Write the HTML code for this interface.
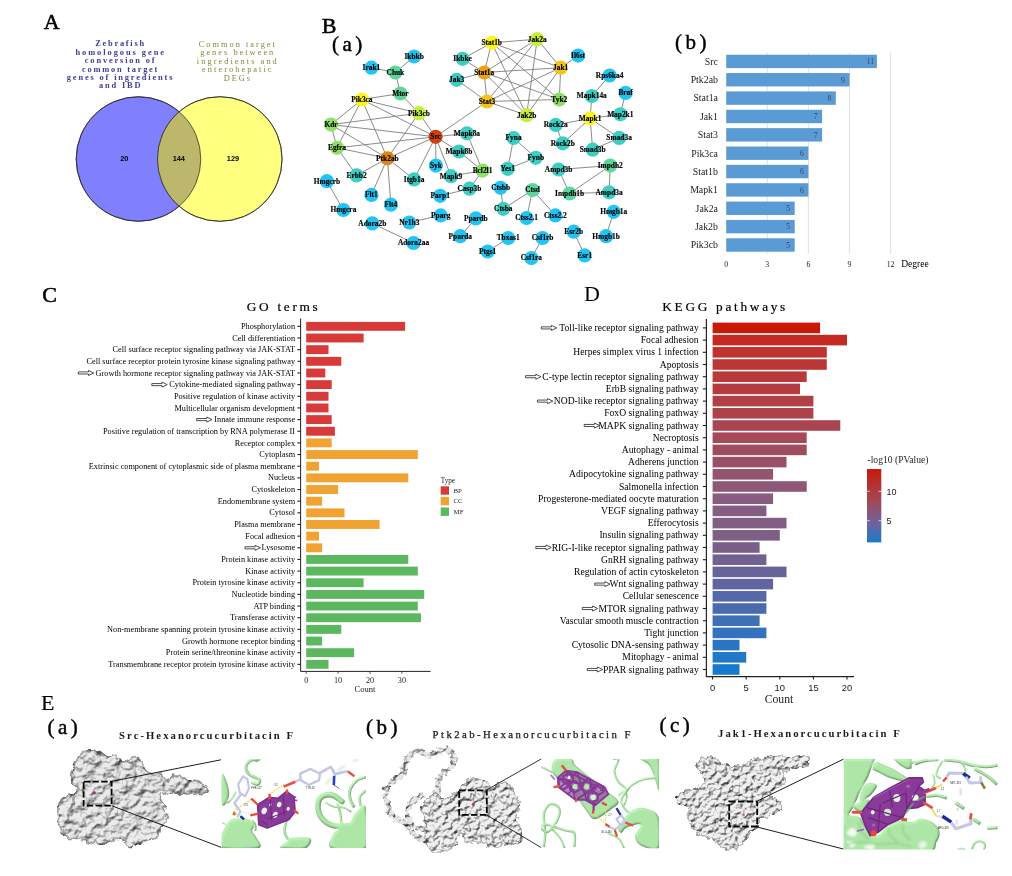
<!DOCTYPE html>
<html lang="en"><head><meta charset="utf-8"><title>Figure</title>
<style>
html,body{margin:0;padding:0;background:#fff;}
body{width:1012px;height:876px;overflow:hidden;}
svg{display:block;}
text{font-family:"Liberation Serif",serif;fill:#000;}
.pl{font-size:22px;stroke:#000;stroke-width:0.35px;}
.sub{font-size:21px;letter-spacing:3.5px;stroke:#000;stroke-width:0.45px;}
.ttl{font-size:13.3px;stroke:#000;stroke-width:0.2px;}
.nl{font-size:7.4px;font-weight:bold;text-anchor:middle;stroke:#000;stroke-width:0.15px;}
.va{font-size:7.6px;font-weight:bold;text-anchor:middle;letter-spacing:1.25px;}
.bl{font-size:9.8px;text-anchor:end;fill:#1a1a1a;}
.bv{font-size:7.7px;text-anchor:middle;fill:#39485c;}
.bt{font-size:7.8px;text-anchor:middle;fill:#222;}
.gl{font-size:8.28px;text-anchor:end;fill:#000;}
.kl{font-size:9.62px;text-anchor:end;fill:#000;}
.gt{font-size:8.2px;text-anchor:middle;fill:#222;}
.kt{font-size:9.4px;text-anchor:middle;fill:#222;font-family:"Liberation Sans",sans-serif;}
.et{font-size:10.7px;font-weight:bold;fill:#1a1a1a;}
.tiny{font-size:2.6px;fill:#333;font-family:"Liberation Sans",sans-serif;}
</style></head><body>
<svg width="1012" height="876" viewBox="0 0 1012 876">
<rect x="0" y="0" width="1012" height="876" fill="#ffffff"/>

<defs>
<filter id="lump" x="-10%" y="-10%" width="120%" height="120%" color-interpolation-filters="sRGB">
  <feTurbulence type="fractalNoise" baseFrequency="0.14" numOctaves="2" seed="7" result="n"/>
  <feDisplacementMap in="SourceGraphic" in2="n" scale="7" xChannelSelector="R" yChannelSelector="G" result="d"/>
  <feTurbulence type="fractalNoise" baseFrequency="0.11" numOctaves="3" seed="11" result="n2"/>
  <feDiffuseLighting in="n2" surfaceScale="3.6" diffuseConstant="1.1" lighting-color="#ffffff" result="lit">
    <feDistantLight azimuth="240" elevation="58"/>
  </feDiffuseLighting>
  <feComposite in="lit" in2="d" operator="arithmetic" k1="1" k2="0" k3="0" k4="0" result="mul"/>
  <feComposite in="mul" in2="d" operator="in" result="tex"/>
  <feGaussianBlur in="tex" stdDeviation="0.4"/>
</filter>
<filter id="lump2" x="-10%" y="-10%" width="120%" height="120%" color-interpolation-filters="sRGB">
  <feTurbulence type="fractalNoise" baseFrequency="0.2" numOctaves="2" seed="3" result="n"/>
  <feDisplacementMap in="SourceGraphic" in2="n" scale="7" xChannelSelector="R" yChannelSelector="G" result="d"/>
  <feTurbulence type="fractalNoise" baseFrequency="0.19" numOctaves="3" seed="5" result="n2"/>
  <feDiffuseLighting in="n2" surfaceScale="3.4" diffuseConstant="1.14" lighting-color="#ffffff" result="lit">
    <feDistantLight azimuth="240" elevation="60"/>
  </feDiffuseLighting>
  <feComposite in="lit" in2="d" operator="arithmetic" k1="1" k2="0" k3="0" k4="0" result="mul"/>
  <feComposite in="mul" in2="d" operator="in" result="tex"/>
  <feGaussianBlur in="tex" stdDeviation="0.35"/>
</filter>
<filter id="rib" x="-5%" y="-5%" width="110%" height="110%" color-interpolation-filters="sRGB">
  <feGaussianBlur in="SourceAlpha" stdDeviation="1.0" result="b"/>
  <feDiffuseLighting in="b" surfaceScale="1.5" diffuseConstant="1.12" lighting-color="#b6ecb0" result="lit">
    <feDistantLight azimuth="235" elevation="62"/>
  </feDiffuseLighting>
  <feFlood flood-color="#a6e2a0" result="fl"/>
  <feComposite in="lit" in2="fl" operator="arithmetic" k1="0" k2="0.6" k3="0.4" k4="0" result="mix"/>
  <feComposite in="mix" in2="SourceAlpha" operator="in" result="c"/>
  <feGaussianBlur in="c" stdDeviation="0.6"/>
</filter>
<filter id="soft" x="-5%" y="-5%" width="110%" height="110%"><feGaussianBlur stdDeviation="0.45"/></filter>
<filter id="soft2" x="-5%" y="-5%" width="110%" height="110%"><feGaussianBlur stdDeviation="0.8"/></filter>
<linearGradient id="kgrad" x1="0" y1="0" x2="0" y2="1">
  <stop offset="0" stop-color="#c9190a"/><stop offset="0.45" stop-color="#a04a5a"/><stop offset="0.75" stop-color="#6b64a0"/><stop offset="1" stop-color="#1b7ac9"/>
</linearGradient>
</defs>

<text x="43.8" y="29.4" class="pl" style="stroke-width:0.55px">A</text>
<text x="321.8" y="32.6" class="pl" style="stroke-width:0.55px">B</text>
<text x="42.3" y="301.6" class="pl" style="stroke-width:0.55px">C</text>
<text x="584" y="301.1" class="pl" style="stroke-width:0">D</text>
<text x="41" y="709.6" class="pl" style="stroke-width:0.15px">E</text>
<text x="332" y="51.4" class="sub">(a)</text>
<text x="675" y="48.5" class="sub">(b)</text>
<g id="venn">
<circle cx="138.5" cy="159" r="62.3" fill="#8080ff" stroke="#222" stroke-width="0.7"/>
<circle cx="219.8" cy="159" r="62.3" fill="#ffff80" stroke="#222" stroke-width="0.7"/>
<clipPath id="cl"><circle cx="138.5" cy="159" r="62.3"/></clipPath>
<circle cx="219.8" cy="159" r="62.3" fill="#bdb76b" clip-path="url(#cl)"/>
<circle cx="138.5" cy="159" r="62.3" fill="none" stroke="#222" stroke-width="0.7"/>
<circle cx="219.8" cy="159" r="62.3" fill="none" stroke="#222" stroke-width="0.7"/>
<text x="124.3" y="161" style="font-family:'Liberation Sans', sans-serif;font-size:7.4px;font-weight:bold;text-anchor:middle">20</text>
<text x="178.8" y="161" style="font-family:'Liberation Sans', sans-serif;font-size:7.4px;font-weight:bold;text-anchor:middle">144</text>
<text x="233" y="161" style="font-family:'Liberation Sans', sans-serif;font-size:7.4px;font-weight:bold;text-anchor:middle">129</text>
<text x="95.2" y="46.4" textLength="48.9" lengthAdjust="spacing" style="font-size:8.4px;font-weight:bold;fill:#3c3c9e">Zebrafish</text>
<text x="75.4" y="54.8" textLength="88.6" lengthAdjust="spacing" style="font-size:8.4px;font-weight:bold;fill:#3c3c9e">homologous gene</text>
<text x="84.8" y="63.2" textLength="69.8" lengthAdjust="spacing" style="font-size:8.4px;font-weight:bold;fill:#3c3c9e">conversion of</text>
<text x="82.0" y="71.6" textLength="75.4" lengthAdjust="spacing" style="font-size:8.4px;font-weight:bold;fill:#3c3c9e">common target</text>
<text x="66.8" y="80.0" textLength="105.7" lengthAdjust="spacing" style="font-size:8.4px;font-weight:bold;fill:#3c3c9e">genes of ingredients</text>
<text x="98.9" y="88.4" textLength="41.6" lengthAdjust="spacing" style="font-size:8.4px;font-weight:bold;fill:#3c3c9e">and IBD</text>
<text x="198.7" y="47.0" textLength="76.2" lengthAdjust="spacing" style="font-size:8.4px;fill:#87873a">Common target</text>
<text x="200.2" y="55.38" textLength="73.1" lengthAdjust="spacing" style="font-size:8.4px;fill:#87873a">genes between</text>
<text x="196.8" y="63.76" textLength="80.0" lengthAdjust="spacing" style="font-size:8.4px;fill:#87873a">ingredients and</text>
<text x="202.1" y="72.14" textLength="69.4" lengthAdjust="spacing" style="font-size:8.4px;fill:#87873a">enterohepatic</text>
<text x="223.7" y="80.52" textLength="26.2" lengthAdjust="spacing" style="font-size:8.4px;fill:#87873a">DEGs</text>
</g>
<g id="net">
<g stroke="#858585" stroke-width="0.95" fill="none">
<line x1="414.1" y1="56.5" x2="395.4" y2="72.5"/>
<line x1="371.4" y1="67.7" x2="395.4" y2="72.5"/>
<line x1="395.4" y1="72.5" x2="400.4" y2="93.5"/>
<line x1="400.4" y1="93.5" x2="361.9" y2="99.5"/>
<line x1="400.4" y1="93.5" x2="418.9" y2="113.2"/>
<line x1="361.9" y1="99.5" x2="418.9" y2="113.2"/>
<line x1="361.9" y1="99.5" x2="331" y2="124.6"/>
<line x1="361.9" y1="99.5" x2="337" y2="147.8"/>
<line x1="361.9" y1="99.5" x2="387.4" y2="158.3"/>
<line x1="361.9" y1="99.5" x2="435.6" y2="136.8"/>
<line x1="418.9" y1="113.2" x2="331" y2="124.6"/>
<line x1="418.9" y1="113.2" x2="435.6" y2="136.8"/>
<line x1="418.9" y1="113.2" x2="387.4" y2="158.3"/>
<line x1="331" y1="124.6" x2="435.6" y2="136.8"/>
<line x1="331" y1="124.6" x2="387.4" y2="158.3"/>
<line x1="331" y1="124.6" x2="337" y2="147.8"/>
<line x1="337" y1="147.8" x2="435.6" y2="136.8"/>
<line x1="337" y1="147.8" x2="387.4" y2="158.3"/>
<line x1="337" y1="147.8" x2="356.6" y2="175.4"/>
<line x1="387.4" y1="158.3" x2="435.6" y2="136.8"/>
<line x1="387.4" y1="158.3" x2="356.6" y2="175.4"/>
<line x1="387.4" y1="158.3" x2="371.4" y2="194.9"/>
<line x1="387.4" y1="158.3" x2="390.9" y2="204.7"/>
<line x1="387.4" y1="158.3" x2="414.1" y2="179.4"/>
<line x1="435.6" y1="136.8" x2="414.1" y2="179.4"/>
<line x1="435.6" y1="136.8" x2="435.9" y2="165.6"/>
<line x1="435.6" y1="136.8" x2="451" y2="176.2"/>
<line x1="435.6" y1="136.8" x2="459" y2="151.5"/>
<line x1="435.6" y1="136.8" x2="466.9" y2="133.3"/>
<line x1="435.6" y1="136.8" x2="486.9" y2="101.5"/>
<line x1="466.9" y1="133.3" x2="482.5" y2="170.6"/>
<line x1="459" y1="151.5" x2="482.5" y2="170.6"/>
<line x1="451" y1="176.2" x2="482.5" y2="170.6"/>
<line x1="482.5" y1="170.6" x2="469.5" y2="188.7"/>
<line x1="469.5" y1="188.7" x2="440.2" y2="195.8"/>
<line x1="440.7" y1="215.4" x2="409.3" y2="222.5"/>
<line x1="372.3" y1="223.4" x2="413.5" y2="243"/>
<line x1="475.8" y1="218.4" x2="460.3" y2="236.2"/>
<line x1="326.9" y1="181.2" x2="343.4" y2="210"/>
<line x1="487.7" y1="251.5" x2="508.2" y2="238"/>
<line x1="491.7" y1="42.8" x2="537.2" y2="39.2"/>
<line x1="491.7" y1="42.8" x2="484.2" y2="72.5"/>
<line x1="491.7" y1="42.8" x2="462.6" y2="58.8"/>
<line x1="491.7" y1="42.8" x2="560.7" y2="67.7"/>
<line x1="491.7" y1="42.8" x2="559.3" y2="99.5"/>
<line x1="491.7" y1="42.8" x2="526.6" y2="115.2"/>
<line x1="484.2" y1="72.5" x2="462.6" y2="58.8"/>
<line x1="484.2" y1="72.5" x2="456.7" y2="79.8"/>
<line x1="484.2" y1="72.5" x2="537.2" y2="39.2"/>
<line x1="484.2" y1="72.5" x2="560.7" y2="67.7"/>
<line x1="484.2" y1="72.5" x2="486.9" y2="101.5"/>
<line x1="484.2" y1="72.5" x2="559.3" y2="99.5"/>
<line x1="484.2" y1="72.5" x2="526.6" y2="115.2"/>
<line x1="486.9" y1="101.5" x2="456.7" y2="79.8"/>
<line x1="486.9" y1="101.5" x2="537.2" y2="39.2"/>
<line x1="486.9" y1="101.5" x2="560.7" y2="67.7"/>
<line x1="486.9" y1="101.5" x2="559.3" y2="99.5"/>
<line x1="486.9" y1="101.5" x2="526.6" y2="115.2"/>
<line x1="537.2" y1="39.2" x2="560.7" y2="67.7"/>
<line x1="537.2" y1="39.2" x2="526.6" y2="115.2"/>
<line x1="560.7" y1="67.7" x2="559.3" y2="99.5"/>
<line x1="560.7" y1="67.7" x2="526.6" y2="115.2"/>
<line x1="560.7" y1="67.7" x2="578.1" y2="55.6"/>
<line x1="609.6" y1="75.5" x2="591.8" y2="96"/>
<line x1="591.8" y1="96" x2="590.1" y2="118.4"/>
<line x1="625.6" y1="92.9" x2="620.3" y2="114.3"/>
<line x1="590.1" y1="118.4" x2="620.3" y2="114.3"/>
<line x1="590.1" y1="118.4" x2="555.7" y2="124.9"/>
<line x1="590.1" y1="118.4" x2="562.8" y2="143.3"/>
<line x1="590.1" y1="118.4" x2="619.1" y2="137.9"/>
<line x1="590.1" y1="118.4" x2="592.7" y2="149.7"/>
<line x1="555.7" y1="124.9" x2="562.8" y2="143.3"/>
<line x1="619.1" y1="137.9" x2="592.7" y2="149.7"/>
<line x1="513.6" y1="138" x2="535.8" y2="157.8"/>
<line x1="513.6" y1="138" x2="507.7" y2="168.8"/>
<line x1="535.8" y1="157.8" x2="507.7" y2="168.8"/>
<line x1="558.6" y1="169.5" x2="610.2" y2="165.6"/>
<line x1="558.6" y1="169.5" x2="569.6" y2="193.5"/>
<line x1="610.2" y1="165.6" x2="569.6" y2="193.5"/>
<line x1="610.2" y1="165.6" x2="609.1" y2="192.3"/>
<line x1="569.6" y1="193.5" x2="609.1" y2="192.3"/>
<line x1="500.6" y1="187.8" x2="503.3" y2="208.8"/>
<line x1="532.6" y1="190.1" x2="503.3" y2="208.8"/>
<line x1="532.6" y1="190.1" x2="526.6" y2="218"/>
<line x1="532.6" y1="190.1" x2="555.4" y2="215.4"/>
<line x1="613.7" y1="211.8" x2="606.1" y2="236.2"/>
<line x1="573.7" y1="231.7" x2="584.7" y2="255.4"/>
<line x1="542.6" y1="238" x2="531.4" y2="258.1"/>
</g>
<circle cx="414.1" cy="56.5" r="7.1" fill="#21c4f2"/>
<circle cx="371.4" cy="67.7" r="7.1" fill="#21c4f2"/>
<circle cx="395.4" cy="72.5" r="7.1" fill="#5dd69c"/>
<circle cx="400.4" cy="93.5" r="7.1" fill="#5dd69c"/>
<circle cx="361.9" cy="99.5" r="7.1" fill="#fff51e"/>
<circle cx="418.9" cy="113.2" r="7.1" fill="#c6ee3c"/>
<circle cx="331" cy="124.6" r="7.1" fill="#8fe066"/>
<circle cx="337" cy="147.8" r="7.1" fill="#8fe066"/>
<circle cx="435.6" cy="136.8" r="7.1" fill="#cf400e"/>
<circle cx="462.6" cy="58.8" r="7.1" fill="#3ccdc4"/>
<circle cx="456.7" cy="79.8" r="7.1" fill="#3ccdc4"/>
<circle cx="466.9" cy="133.3" r="7.1" fill="#3ccdc4"/>
<circle cx="459" cy="151.5" r="7.1" fill="#3ccdc4"/>
<circle cx="387.4" cy="158.3" r="7.1" fill="#e0860f"/>
<circle cx="491.7" cy="42.8" r="7.1" fill="#fff51e"/>
<circle cx="537.2" cy="39.2" r="7.1" fill="#c6ee3c"/>
<circle cx="484.2" cy="72.5" r="7.1" fill="#e8a212"/>
<circle cx="560.7" cy="67.7" r="7.1" fill="#f4c518"/>
<circle cx="578.1" cy="55.6" r="7.1" fill="#21c4f2"/>
<circle cx="486.9" cy="101.5" r="7.1" fill="#f4c518"/>
<circle cx="559.3" cy="99.5" r="7.1" fill="#8fe066"/>
<circle cx="526.6" cy="115.2" r="7.1" fill="#c6ee3c"/>
<circle cx="609.6" cy="75.5" r="7.1" fill="#21c4f2"/>
<circle cx="591.8" cy="96" r="7.1" fill="#3ccdc4"/>
<circle cx="625.6" cy="92.9" r="7.1" fill="#21c4f2"/>
<circle cx="590.1" cy="118.4" r="7.1" fill="#fff51e"/>
<circle cx="620.3" cy="114.3" r="7.1" fill="#3ccdc4"/>
<circle cx="555.7" cy="124.9" r="7.1" fill="#3ccdc4"/>
<circle cx="562.8" cy="143.3" r="7.1" fill="#3ccdc4"/>
<circle cx="619.1" cy="137.9" r="7.1" fill="#3ccdc4"/>
<circle cx="592.7" cy="149.7" r="7.1" fill="#3ccdc4"/>
<circle cx="513.6" cy="138" r="7.1" fill="#3ccdc4"/>
<circle cx="535.8" cy="157.8" r="7.1" fill="#3ccdc4"/>
<circle cx="507.7" cy="168.8" r="7.1" fill="#3ccdc4"/>
<circle cx="356.6" cy="175.4" r="7.1" fill="#3ccdc4"/>
<circle cx="326.9" cy="181.2" r="7.1" fill="#21c4f2"/>
<circle cx="343.4" cy="210" r="7.1" fill="#21c4f2"/>
<circle cx="371.4" cy="194.9" r="7.1" fill="#21c4f2"/>
<circle cx="390.9" cy="204.7" r="7.1" fill="#21c4f2"/>
<circle cx="414.1" cy="179.4" r="7.1" fill="#3ccdc4"/>
<circle cx="435.9" cy="165.6" r="7.1" fill="#21c4f2"/>
<circle cx="451" cy="176.2" r="7.1" fill="#3ccdc4"/>
<circle cx="482.5" cy="170.6" r="7.1" fill="#8fe066"/>
<circle cx="469.5" cy="188.7" r="7.1" fill="#3ccdc4"/>
<circle cx="440.2" cy="195.8" r="7.1" fill="#21c4f2"/>
<circle cx="440.7" cy="215.4" r="7.1" fill="#21c4f2"/>
<circle cx="409.3" cy="222.5" r="7.1" fill="#21c4f2"/>
<circle cx="372.3" cy="223.4" r="7.1" fill="#21c4f2"/>
<circle cx="413.5" cy="243" r="7.1" fill="#21c4f2"/>
<circle cx="475.8" cy="218.4" r="7.1" fill="#21c4f2"/>
<circle cx="460.3" cy="236.2" r="7.1" fill="#21c4f2"/>
<circle cx="487.7" cy="251.5" r="7.1" fill="#21c4f2"/>
<circle cx="508.2" cy="238" r="7.1" fill="#21c4f2"/>
<circle cx="558.6" cy="169.5" r="7.1" fill="#3ccdc4"/>
<circle cx="610.2" cy="165.6" r="7.1" fill="#5dd69c"/>
<circle cx="569.6" cy="193.5" r="7.1" fill="#5dd69c"/>
<circle cx="609.1" cy="192.3" r="7.1" fill="#3ccdc4"/>
<circle cx="500.6" cy="187.8" r="7.1" fill="#21c4f2"/>
<circle cx="532.6" cy="190.1" r="7.1" fill="#5dd69c"/>
<circle cx="503.3" cy="208.8" r="7.1" fill="#3ccdc4"/>
<circle cx="526.6" cy="218" r="7.1" fill="#21c4f2"/>
<circle cx="555.4" cy="215.4" r="7.1" fill="#21c4f2"/>
<circle cx="613.7" cy="211.8" r="7.1" fill="#21c4f2"/>
<circle cx="606.1" cy="236.2" r="7.1" fill="#21c4f2"/>
<circle cx="573.7" cy="231.7" r="7.1" fill="#21c4f2"/>
<circle cx="584.7" cy="255.4" r="7.1" fill="#21c4f2"/>
<circle cx="542.6" cy="238" r="7.1" fill="#21c4f2"/>
<circle cx="531.4" cy="258.1" r="7.1" fill="#21c4f2"/>
<text x="414.1" y="58.8" class="nl">Ikbkb</text>
<text x="371.4" y="70.0" class="nl">Irak1</text>
<text x="395.4" y="74.8" class="nl">Chuk</text>
<text x="400.4" y="95.8" class="nl">Mtor</text>
<text x="361.9" y="101.8" class="nl">Pik3ca</text>
<text x="418.9" y="115.5" class="nl">Pik3cb</text>
<text x="331" y="126.9" class="nl">Kdr</text>
<text x="337" y="150.1" class="nl">Egfra</text>
<text x="435.6" y="139.1" class="nl">Src</text>
<text x="462.6" y="61.1" class="nl">Ikbke</text>
<text x="456.7" y="82.1" class="nl">Jak3</text>
<text x="466.9" y="135.6" class="nl">Mapk8a</text>
<text x="459" y="153.8" class="nl">Mapk8b</text>
<text x="387.4" y="160.6" class="nl">Ptk2ab</text>
<text x="491.7" y="45.1" class="nl">Stat1b</text>
<text x="537.2" y="41.5" class="nl">Jak2a</text>
<text x="484.2" y="74.8" class="nl">Stat1a</text>
<text x="560.7" y="70.0" class="nl">Jak1</text>
<text x="578.1" y="57.9" class="nl">Il6st</text>
<text x="486.9" y="103.8" class="nl">Stat3</text>
<text x="559.3" y="101.8" class="nl">Tyk2</text>
<text x="526.6" y="117.5" class="nl">Jak2b</text>
<text x="609.6" y="77.8" class="nl">Rps6ka4</text>
<text x="591.8" y="98.3" class="nl">Mapk14a</text>
<text x="625.6" y="95.2" class="nl">Braf</text>
<text x="590.1" y="120.7" class="nl">Mapk1</text>
<text x="620.3" y="116.6" class="nl">Map2k1</text>
<text x="555.7" y="127.2" class="nl">Rock2a</text>
<text x="562.8" y="145.6" class="nl">Rock2b</text>
<text x="619.1" y="140.2" class="nl">Smad3a</text>
<text x="592.7" y="152.0" class="nl">Smad3b</text>
<text x="513.6" y="140.3" class="nl">Fyna</text>
<text x="535.8" y="160.1" class="nl">Fynb</text>
<text x="507.7" y="171.1" class="nl">Yes1</text>
<text x="356.6" y="177.7" class="nl">Erbb2</text>
<text x="326.9" y="183.5" class="nl">Hmgcrb</text>
<text x="343.4" y="212.3" class="nl">Hmgcra</text>
<text x="371.4" y="197.2" class="nl">Flt1</text>
<text x="390.9" y="207.0" class="nl">Flt4</text>
<text x="414.1" y="181.7" class="nl">Itgb1a</text>
<text x="435.9" y="167.9" class="nl">Syk</text>
<text x="451" y="178.5" class="nl">Mapk9</text>
<text x="482.5" y="172.9" class="nl">Bcl2l1</text>
<text x="469.5" y="191.0" class="nl">Casp3b</text>
<text x="440.2" y="198.1" class="nl">Parp1</text>
<text x="440.7" y="217.7" class="nl">Pparg</text>
<text x="409.3" y="224.8" class="nl">Nr1h3</text>
<text x="372.3" y="225.7" class="nl">Adora2b</text>
<text x="413.5" y="245.3" class="nl">Adora2aa</text>
<text x="475.8" y="220.7" class="nl">Ppardb</text>
<text x="460.3" y="238.5" class="nl">Pparda</text>
<text x="487.7" y="253.8" class="nl">Ptgs1</text>
<text x="508.2" y="240.3" class="nl">Tbxas1</text>
<text x="558.6" y="171.8" class="nl">Ampd3b</text>
<text x="610.2" y="167.9" class="nl">Impdh2</text>
<text x="569.6" y="195.8" class="nl">Impdh1b</text>
<text x="609.1" y="194.6" class="nl">Ampd3a</text>
<text x="500.6" y="190.1" class="nl">Ctsbb</text>
<text x="532.6" y="192.4" class="nl">Ctsd</text>
<text x="503.3" y="211.1" class="nl">Ctsba</text>
<text x="526.6" y="220.3" class="nl">Ctss2.1</text>
<text x="555.4" y="217.7" class="nl">Ctss2.2</text>
<text x="613.7" y="214.1" class="nl">Hmgb1a</text>
<text x="606.1" y="238.5" class="nl">Hmgb1b</text>
<text x="573.7" y="234.0" class="nl">Esr2b</text>
<text x="584.7" y="257.7" class="nl">Esr1</text>
<text x="542.6" y="240.3" class="nl">Csf1rb</text>
<text x="531.4" y="260.4" class="nl">Csf1ra</text>
</g>
<g id="deg">
<line x1="767.3" y1="52.5" x2="767.3" y2="253.8" stroke="#d9d9d9" stroke-width="0.8"/>
<line x1="808.4" y1="52.5" x2="808.4" y2="253.8" stroke="#d9d9d9" stroke-width="0.8"/>
<line x1="849.5" y1="52.5" x2="849.5" y2="253.8" stroke="#d9d9d9" stroke-width="0.8"/>
<line x1="890.6" y1="52.5" x2="890.6" y2="253.8" stroke="#d9d9d9" stroke-width="0.8"/>
<rect x="726.2" y="54.7" width="150.7" height="13.4" fill="#5b9bd5"/>
<text x="717.9" y="64.7" class="bl">Src</text>
<text x="870.4" y="64.1" class="bv">11</text>
<rect x="726.2" y="73.06" width="123.3" height="13.4" fill="#5b9bd5"/>
<text x="717.9" y="83.1" class="bl">Ptk2ab</text>
<text x="843.0" y="82.5" class="bv">9</text>
<rect x="726.2" y="91.42" width="109.6" height="13.4" fill="#5b9bd5"/>
<text x="717.9" y="101.4" class="bl">Stat1a</text>
<text x="829.3" y="100.8" class="bv">8</text>
<rect x="726.2" y="109.78" width="95.9" height="13.4" fill="#5b9bd5"/>
<text x="717.9" y="119.8" class="bl">Jak1</text>
<text x="815.6" y="119.2" class="bv">7</text>
<rect x="726.2" y="128.14" width="95.9" height="13.4" fill="#5b9bd5"/>
<text x="717.9" y="138.1" class="bl">Stat3</text>
<text x="815.6" y="137.5" class="bv">7</text>
<rect x="726.2" y="146.5" width="82.2" height="13.4" fill="#5b9bd5"/>
<text x="717.9" y="156.5" class="bl">Pik3ca</text>
<text x="801.9" y="155.9" class="bv">6</text>
<rect x="726.2" y="164.86" width="82.2" height="13.4" fill="#5b9bd5"/>
<text x="717.9" y="174.9" class="bl">Stat1b</text>
<text x="801.9" y="174.3" class="bv">6</text>
<rect x="726.2" y="183.22" width="82.2" height="13.4" fill="#5b9bd5"/>
<text x="717.9" y="193.2" class="bl">Mapk1</text>
<text x="801.9" y="192.6" class="bv">6</text>
<rect x="726.2" y="201.58" width="68.5" height="13.4" fill="#5b9bd5"/>
<text x="717.9" y="211.6" class="bl">Jak2a</text>
<text x="788.2" y="211.0" class="bv">5</text>
<rect x="726.2" y="219.94" width="68.5" height="13.4" fill="#5b9bd5"/>
<text x="717.9" y="229.9" class="bl">Jak2b</text>
<text x="788.2" y="229.3" class="bv">5</text>
<rect x="726.2" y="238.3" width="68.5" height="13.4" fill="#5b9bd5"/>
<text x="717.9" y="248.3" class="bl">Pik3cb</text>
<text x="788.2" y="247.7" class="bv">5</text>
<text x="726.2" y="266.6" class="bt">0</text>
<text x="767.3" y="266.6" class="bt">3</text>
<text x="808.4" y="266.6" class="bt">6</text>
<text x="849.5" y="266.6" class="bt">9</text>
<text x="890.6" y="266.6" class="bt">12</text>
<text x="901.2" y="266.8" style="font-size:9.5px">Degree</text>
</g>
<g id="go">
<text x="246.8" y="311.1" class="ttl" textLength="71" lengthAdjust="spacing">GO terms</text>
<rect x="306.2" y="321.9" width="98.9" height="8.9" fill="#d73a38"/>
<line x1="297.4" y1="326.35" x2="300.6" y2="326.35" stroke="#222" stroke-width="1.1"/>
<text x="295.1" y="328.95" class="gl">Phosphorylation</text>
<rect x="306.2" y="333.55" width="57.4" height="8.9" fill="#d73a38"/>
<line x1="297.4" y1="338.0" x2="300.6" y2="338.0" stroke="#222" stroke-width="1.1"/>
<text x="295.1" y="340.6" class="gl">Cell differentiation</text>
<rect x="306.2" y="345.21" width="22.3" height="8.9" fill="#d73a38"/>
<line x1="297.4" y1="349.66" x2="300.6" y2="349.66" stroke="#222" stroke-width="1.1"/>
<text x="295.1" y="352.26" class="gl">Cell surface receptor signaling pathway via JAK-STAT</text>
<rect x="306.2" y="356.86" width="35.1" height="8.9" fill="#d73a38"/>
<line x1="297.4" y1="361.31" x2="300.6" y2="361.31" stroke="#222" stroke-width="1.1"/>
<text x="295.1" y="363.91" class="gl">Cell surface receptor protein tyrosine kinase signaling pathway</text>
<rect x="306.2" y="368.52" width="19.1" height="8.9" fill="#d73a38"/>
<line x1="297.4" y1="372.97" x2="300.6" y2="372.97" stroke="#222" stroke-width="1.1"/>
<text x="295.1" y="375.57" class="gl">Growth hormone receptor signaling pathway via JAK-STAT</text>
<polygon points="78.3,371.92 88.5,371.92 88.5,370.47 93.7,372.97 88.5,375.47 88.5,374.02 78.3,374.02" fill="#fff" stroke="#222" stroke-width="0.8"/>
<rect x="306.2" y="380.17" width="25.5" height="8.9" fill="#d73a38"/>
<line x1="297.4" y1="384.62" x2="300.6" y2="384.62" stroke="#222" stroke-width="1.1"/>
<text x="295.1" y="387.22" class="gl">Cytokine-mediated signaling pathway</text>
<polygon points="151.8,383.57 162.0,383.57 162.0,382.12 167.2,384.62 162.0,387.12 162.0,385.67 151.8,385.67" fill="#fff" stroke="#222" stroke-width="0.8"/>
<rect x="306.2" y="391.83" width="22.3" height="8.9" fill="#d73a38"/>
<line x1="297.4" y1="396.28" x2="300.6" y2="396.28" stroke="#222" stroke-width="1.1"/>
<text x="295.1" y="398.88" class="gl">Positive regulation of kinase activity</text>
<rect x="306.2" y="403.48" width="22.3" height="8.9" fill="#d73a38"/>
<line x1="297.4" y1="407.93" x2="300.6" y2="407.93" stroke="#222" stroke-width="1.1"/>
<text x="295.1" y="410.53" class="gl">Multicellular organism development</text>
<rect x="306.2" y="415.14" width="25.5" height="8.9" fill="#d73a38"/>
<line x1="297.4" y1="419.59" x2="300.6" y2="419.59" stroke="#222" stroke-width="1.1"/>
<text x="295.1" y="422.19" class="gl">Innate immune response</text>
<polygon points="196.6,418.54 206.8,418.54 206.8,417.09 212.0,419.59 206.8,422.09 206.8,420.64 196.6,420.64" fill="#fff" stroke="#222" stroke-width="0.8"/>
<rect x="306.2" y="426.79" width="28.7" height="8.9" fill="#d73a38"/>
<line x1="297.4" y1="431.24" x2="300.6" y2="431.24" stroke="#222" stroke-width="1.1"/>
<text x="295.1" y="433.84" class="gl">Positive regulation of transcription by RNA polymerase II</text>
<rect x="306.2" y="438.45" width="25.5" height="8.9" fill="#f0a232"/>
<line x1="297.4" y1="442.9" x2="300.6" y2="442.9" stroke="#222" stroke-width="1.1"/>
<text x="295.1" y="445.5" class="gl">Receptor complex</text>
<rect x="306.2" y="450.1" width="111.6" height="8.9" fill="#f0a232"/>
<line x1="297.4" y1="454.55" x2="300.6" y2="454.55" stroke="#222" stroke-width="1.1"/>
<text x="295.1" y="457.15" class="gl">Cytoplasm</text>
<rect x="306.2" y="461.76" width="12.8" height="8.9" fill="#f0a232"/>
<line x1="297.4" y1="466.21" x2="300.6" y2="466.21" stroke="#222" stroke-width="1.1"/>
<text x="295.1" y="468.81" class="gl">Extrinsic component of cytoplasmic side of plasma membrane</text>
<rect x="306.2" y="473.41" width="102.1" height="8.9" fill="#f0a232"/>
<line x1="297.4" y1="477.86" x2="300.6" y2="477.86" stroke="#222" stroke-width="1.1"/>
<text x="295.1" y="480.46" class="gl">Nucleus</text>
<rect x="306.2" y="485.07" width="31.9" height="8.9" fill="#f0a232"/>
<line x1="297.4" y1="489.52" x2="300.6" y2="489.52" stroke="#222" stroke-width="1.1"/>
<text x="295.1" y="492.12" class="gl">Cytoskeleton</text>
<rect x="306.2" y="496.72" width="15.9" height="8.9" fill="#f0a232"/>
<line x1="297.4" y1="501.17" x2="300.6" y2="501.17" stroke="#222" stroke-width="1.1"/>
<text x="295.1" y="503.77" class="gl">Endomembrane system</text>
<rect x="306.2" y="508.38" width="38.3" height="8.9" fill="#f0a232"/>
<line x1="297.4" y1="512.83" x2="300.6" y2="512.83" stroke="#222" stroke-width="1.1"/>
<text x="295.1" y="515.43" class="gl">Cytosol</text>
<rect x="306.2" y="520.03" width="73.4" height="8.9" fill="#f0a232"/>
<line x1="297.4" y1="524.48" x2="300.6" y2="524.48" stroke="#222" stroke-width="1.1"/>
<text x="295.1" y="527.08" class="gl">Plasma membrane</text>
<rect x="306.2" y="531.69" width="12.8" height="8.9" fill="#f0a232"/>
<line x1="297.4" y1="536.14" x2="300.6" y2="536.14" stroke="#222" stroke-width="1.1"/>
<text x="295.1" y="538.74" class="gl">Focal adhesion</text>
<rect x="306.2" y="543.35" width="15.9" height="8.9" fill="#f0a232"/>
<line x1="297.4" y1="547.8" x2="300.6" y2="547.8" stroke="#222" stroke-width="1.1"/>
<text x="295.1" y="550.4" class="gl">Lysosome</text>
<polygon points="245.0,546.75 255.2,546.75 255.2,545.3 260.4,547.8 255.2,550.3 255.2,548.85 245.0,548.85" fill="#fff" stroke="#222" stroke-width="0.8"/>
<rect x="306.2" y="555.0" width="102.1" height="8.9" fill="#5cb85f"/>
<line x1="297.4" y1="559.45" x2="300.6" y2="559.45" stroke="#222" stroke-width="1.1"/>
<text x="295.1" y="562.05" class="gl">Protein kinase activity</text>
<rect x="306.2" y="566.65" width="111.6" height="8.9" fill="#5cb85f"/>
<line x1="297.4" y1="571.1" x2="300.6" y2="571.1" stroke="#222" stroke-width="1.1"/>
<text x="295.1" y="573.7" class="gl">Kinase activity</text>
<rect x="306.2" y="578.31" width="57.4" height="8.9" fill="#5cb85f"/>
<line x1="297.4" y1="582.76" x2="300.6" y2="582.76" stroke="#222" stroke-width="1.1"/>
<text x="295.1" y="585.36" class="gl">Protein tyrosine kinase activity</text>
<rect x="306.2" y="589.96" width="118.0" height="8.9" fill="#5cb85f"/>
<line x1="297.4" y1="594.41" x2="300.6" y2="594.41" stroke="#222" stroke-width="1.1"/>
<text x="295.1" y="597.01" class="gl">Nucleotide binding</text>
<rect x="306.2" y="601.62" width="111.6" height="8.9" fill="#5cb85f"/>
<line x1="297.4" y1="606.07" x2="300.6" y2="606.07" stroke="#222" stroke-width="1.1"/>
<text x="295.1" y="608.67" class="gl">ATP binding</text>
<rect x="306.2" y="613.27" width="114.8" height="8.9" fill="#5cb85f"/>
<line x1="297.4" y1="617.72" x2="300.6" y2="617.72" stroke="#222" stroke-width="1.1"/>
<text x="295.1" y="620.32" class="gl">Transferase activity</text>
<rect x="306.2" y="624.93" width="35.1" height="8.9" fill="#5cb85f"/>
<line x1="297.4" y1="629.38" x2="300.6" y2="629.38" stroke="#222" stroke-width="1.1"/>
<text x="295.1" y="631.98" class="gl">Non-membrane spanning protein tyrosine kinase activity</text>
<rect x="306.2" y="636.59" width="15.9" height="8.9" fill="#5cb85f"/>
<line x1="297.4" y1="641.04" x2="300.6" y2="641.04" stroke="#222" stroke-width="1.1"/>
<text x="295.1" y="643.64" class="gl">Growth hormone receptor binding</text>
<rect x="306.2" y="648.24" width="47.9" height="8.9" fill="#5cb85f"/>
<line x1="297.4" y1="652.69" x2="300.6" y2="652.69" stroke="#222" stroke-width="1.1"/>
<text x="295.1" y="655.29" class="gl">Protein serine/threonine kinase activity</text>
<rect x="306.2" y="659.89" width="22.3" height="8.9" fill="#5cb85f"/>
<line x1="297.4" y1="664.34" x2="300.6" y2="664.34" stroke="#222" stroke-width="1.1"/>
<text x="295.1" y="666.94" class="gl">Transmembrane receptor protein tyrosine kinase activity</text>
<path d="M300.6 318.5 V671.4 H430.5" fill="none" stroke="#222" stroke-width="1.0"/>
<line x1="306.2" y1="671.4" x2="306.2" y2="673.8" stroke="#333" stroke-width="0.8"/>
<text x="306.2" y="682.8" class="gt">0</text>
<line x1="338.1" y1="671.4" x2="338.1" y2="673.8" stroke="#333" stroke-width="0.8"/>
<text x="338.1" y="682.8" class="gt">10</text>
<line x1="370.0" y1="671.4" x2="370.0" y2="673.8" stroke="#333" stroke-width="0.8"/>
<text x="370.0" y="682.8" class="gt">20</text>
<line x1="401.9" y1="671.4" x2="401.9" y2="673.8" stroke="#333" stroke-width="0.8"/>
<text x="401.9" y="682.8" class="gt">30</text>
<text x="365" y="691.8" class="gt" style="font-size:8.6px">Count</text>
<text x="440.8" y="482.8" style="font-size:7.2px;fill:#222">Type</text>
<rect x="440.7" y="486.3" width="8.3" height="8.4" fill="#d73a38"/>
<text x="453.5" y="492.7" style="font-size:6.9px;fill:#222">BP</text>
<rect x="440.7" y="496.9" width="8.3" height="8.4" fill="#f0a232"/>
<text x="453.5" y="503.3" style="font-size:6.9px;fill:#222">CC</text>
<rect x="440.7" y="507.5" width="8.3" height="8.4" fill="#5cb85f"/>
<text x="453.5" y="513.9" style="font-size:6.9px;fill:#222">MF</text>
</g>
<g id="kegg">
<text x="662.3" y="311.1" class="ttl" textLength="123" lengthAdjust="spacing">KEGG pathways</text>
<rect x="712.6" y="322.6" width="107.5" height="10.6" fill="#c81808"/>
<line x1="702.8" y1="327.9" x2="706.4" y2="327.9" stroke="#222" stroke-width="1.1"/>
<text x="698.7" y="330.9" class="kl">Toll-like receptor signaling pathway</text>
<polygon points="541.3,326.85 551.5,326.85 551.5,325.4 556.7,327.9 551.5,330.4 551.5,328.95 541.3,328.95" fill="#fff" stroke="#222" stroke-width="0.8"/>
<rect x="712.6" y="334.8" width="134.4" height="10.6" fill="#c32b22"/>
<line x1="702.8" y1="340.1" x2="706.4" y2="340.1" stroke="#222" stroke-width="1.1"/>
<text x="698.7" y="343.1" class="kl">Focal adhesion</text>
<rect x="712.6" y="347.0" width="114.2" height="10.6" fill="#bf3430"/>
<line x1="702.8" y1="352.3" x2="706.4" y2="352.3" stroke="#222" stroke-width="1.1"/>
<text x="698.7" y="355.3" class="kl">Herpes simplex virus 1 infection</text>
<rect x="712.6" y="359.2" width="114.2" height="10.6" fill="#bb3736"/>
<line x1="702.8" y1="364.5" x2="706.4" y2="364.5" stroke="#222" stroke-width="1.1"/>
<text x="698.7" y="367.5" class="kl">Apoptosis</text>
<rect x="712.6" y="371.4" width="94.1" height="10.6" fill="#b83a3b"/>
<line x1="702.8" y1="376.7" x2="706.4" y2="376.7" stroke="#222" stroke-width="1.1"/>
<text x="698.7" y="379.7" class="kl">C-type lectin receptor signaling pathway</text>
<polygon points="525.6,375.65 535.8,375.65 535.8,374.2 541.0,376.7 535.8,379.2 535.8,377.75 525.6,377.75" fill="#fff" stroke="#222" stroke-width="0.8"/>
<rect x="712.6" y="383.6" width="87.4" height="10.6" fill="#b43c41"/>
<line x1="702.8" y1="388.9" x2="706.4" y2="388.9" stroke="#222" stroke-width="1.1"/>
<text x="698.7" y="391.9" class="kl">ErbB signaling pathway</text>
<rect x="712.6" y="395.8" width="100.8" height="10.6" fill="#b13f46"/>
<line x1="702.8" y1="401.1" x2="706.4" y2="401.1" stroke="#222" stroke-width="1.1"/>
<text x="698.7" y="404.1" class="kl">NOD-like receptor signaling pathway</text>
<polygon points="537.4,400.05 547.6,400.05 547.6,398.6 552.8,401.1 547.6,403.6 547.6,402.15 537.4,402.15" fill="#fff" stroke="#222" stroke-width="0.8"/>
<rect x="712.6" y="408.0" width="100.8" height="10.6" fill="#ad424b"/>
<line x1="702.8" y1="413.3" x2="706.4" y2="413.3" stroke="#222" stroke-width="1.1"/>
<text x="698.7" y="416.3" class="kl">FoxO signaling pathway</text>
<rect x="712.6" y="420.2" width="127.7" height="10.6" fill="#a94551"/>
<line x1="702.8" y1="425.5" x2="706.4" y2="425.5" stroke="#222" stroke-width="1.1"/>
<text x="698.7" y="428.5" class="kl">MAPK signaling pathway</text>
<polygon points="584.2,424.45 594.4,424.45 594.4,423.0 599.6,425.5 594.4,428.0 594.4,426.55 584.2,426.55" fill="#fff" stroke="#222" stroke-width="0.8"/>
<rect x="712.6" y="432.4" width="94.1" height="10.6" fill="#a64856"/>
<line x1="702.8" y1="437.7" x2="706.4" y2="437.7" stroke="#222" stroke-width="1.1"/>
<text x="698.7" y="440.7" class="kl">Necroptosis</text>
<rect x="712.6" y="444.6" width="94.1" height="10.6" fill="#a04c5f"/>
<line x1="702.8" y1="449.9" x2="706.4" y2="449.9" stroke="#222" stroke-width="1.1"/>
<text x="698.7" y="452.9" class="kl">Autophagy - animal</text>
<rect x="712.6" y="456.8" width="73.9" height="10.6" fill="#995067"/>
<line x1="702.8" y1="462.1" x2="706.4" y2="462.1" stroke="#222" stroke-width="1.1"/>
<text x="698.7" y="465.1" class="kl">Adherens junction</text>
<rect x="712.6" y="469.0" width="60.5" height="10.6" fill="#93546f"/>
<line x1="702.8" y1="474.3" x2="706.4" y2="474.3" stroke="#222" stroke-width="1.1"/>
<text x="698.7" y="477.3" class="kl">Adipocytokine signaling pathway</text>
<rect x="712.6" y="481.2" width="94.1" height="10.6" fill="#8d5878"/>
<line x1="702.8" y1="486.5" x2="706.4" y2="486.5" stroke="#222" stroke-width="1.1"/>
<text x="698.7" y="489.5" class="kl">Salmonella infection</text>
<rect x="712.6" y="493.4" width="60.5" height="10.6" fill="#875c80"/>
<line x1="702.8" y1="498.7" x2="706.4" y2="498.7" stroke="#222" stroke-width="1.1"/>
<text x="698.7" y="501.7" class="kl">Progesterone-mediated oocyte maturation</text>
<rect x="712.6" y="505.6" width="53.8" height="10.6" fill="#845d82"/>
<line x1="702.8" y1="510.9" x2="706.4" y2="510.9" stroke="#222" stroke-width="1.1"/>
<text x="698.7" y="513.9" class="kl">VEGF signaling pathway</text>
<rect x="712.6" y="517.8" width="73.9" height="10.6" fill="#815e84"/>
<line x1="702.8" y1="523.1" x2="706.4" y2="523.1" stroke="#222" stroke-width="1.1"/>
<text x="698.7" y="526.1" class="kl">Efferocytosis</text>
<rect x="712.6" y="530.0" width="67.2" height="10.6" fill="#7e5f86"/>
<line x1="702.8" y1="535.3" x2="706.4" y2="535.3" stroke="#222" stroke-width="1.1"/>
<text x="698.7" y="538.3" class="kl">Insulin signaling pathway</text>
<rect x="712.6" y="542.2" width="47.0" height="10.6" fill="#78608b"/>
<line x1="702.8" y1="547.5" x2="706.4" y2="547.5" stroke="#222" stroke-width="1.1"/>
<text x="698.7" y="550.5" class="kl">RIG-I-like receptor signaling pathway</text>
<polygon points="535.8,546.45 546.0,546.45 546.0,545.0 551.2,547.5 546.0,550.0 546.0,548.55 535.8,548.55" fill="#fff" stroke="#222" stroke-width="0.8"/>
<rect x="712.6" y="554.4" width="53.8" height="10.6" fill="#706192"/>
<line x1="702.8" y1="559.7" x2="706.4" y2="559.7" stroke="#222" stroke-width="1.1"/>
<text x="698.7" y="562.7" class="kl">GnRH signaling pathway</text>
<rect x="712.6" y="566.6" width="73.9" height="10.6" fill="#686399"/>
<line x1="702.8" y1="571.9" x2="706.4" y2="571.9" stroke="#222" stroke-width="1.1"/>
<text x="698.7" y="574.9" class="kl">Regulation of actin cytoskeleton</text>
<rect x="712.6" y="578.8" width="60.5" height="10.6" fill="#6064a0"/>
<line x1="702.8" y1="584.1" x2="706.4" y2="584.1" stroke="#222" stroke-width="1.1"/>
<text x="698.7" y="587.1" class="kl">Wnt signaling pathway</text>
<polygon points="594.7,583.05 604.9,583.05 604.9,581.6 610.1,584.1 604.9,586.6 604.9,585.15 594.7,585.15" fill="#fff" stroke="#222" stroke-width="0.8"/>
<rect x="712.6" y="591.0" width="53.8" height="10.6" fill="#5568a7"/>
<line x1="702.8" y1="596.3" x2="706.4" y2="596.3" stroke="#222" stroke-width="1.1"/>
<text x="698.7" y="599.3" class="kl">Cellular senescence</text>
<rect x="712.6" y="603.2" width="53.8" height="10.6" fill="#4a6bae"/>
<line x1="702.8" y1="608.5" x2="706.4" y2="608.5" stroke="#222" stroke-width="1.1"/>
<text x="698.7" y="611.5" class="kl">MTOR signaling pathway</text>
<polygon points="582.3,607.45 592.5,607.45 592.5,606.0 597.7,608.5 592.5,611.0 592.5,609.55 582.3,609.55" fill="#fff" stroke="#222" stroke-width="0.8"/>
<rect x="712.6" y="615.4" width="47.0" height="10.6" fill="#3f6fb5"/>
<line x1="702.8" y1="620.7" x2="706.4" y2="620.7" stroke="#222" stroke-width="1.1"/>
<text x="698.7" y="623.7" class="kl">Vascular smooth muscle contraction</text>
<rect x="712.6" y="627.6" width="53.8" height="10.6" fill="#3472bd"/>
<line x1="702.8" y1="632.9" x2="706.4" y2="632.9" stroke="#222" stroke-width="1.1"/>
<text x="698.7" y="635.9" class="kl">Tight junction</text>
<rect x="712.6" y="639.8" width="26.9" height="10.6" fill="#2a75c2"/>
<line x1="702.8" y1="645.1" x2="706.4" y2="645.1" stroke="#222" stroke-width="1.1"/>
<text x="698.7" y="648.1" class="kl">Cytosolic DNA-sensing pathway</text>
<rect x="712.6" y="652.0" width="33.6" height="10.6" fill="#2078c7"/>
<line x1="702.8" y1="657.3" x2="706.4" y2="657.3" stroke="#222" stroke-width="1.1"/>
<text x="698.7" y="660.3" class="kl">Mitophagy - animal</text>
<rect x="712.6" y="664.2" width="26.9" height="10.6" fill="#167acc"/>
<line x1="702.8" y1="669.5" x2="706.4" y2="669.5" stroke="#222" stroke-width="1.1"/>
<text x="698.7" y="672.5" class="kl">PPAR signaling pathway</text>
<polygon points="587.2,668.45 597.4,668.45 597.4,667.0 602.6,669.5 597.4,672.0 597.4,670.55 587.2,670.55" fill="#fff" stroke="#222" stroke-width="0.8"/>
<path d="M706.4 319 V676.6 H854" fill="none" stroke="#222" stroke-width="1.2"/>
<line x1="712.6" y1="676.6" x2="712.6" y2="679.6" stroke="#222" stroke-width="1.1"/>
<text x="712.6" y="690.6" class="kt">0</text>
<line x1="746.2" y1="676.6" x2="746.2" y2="679.6" stroke="#222" stroke-width="1.1"/>
<text x="746.2" y="690.6" class="kt">5</text>
<line x1="779.8" y1="676.6" x2="779.8" y2="679.6" stroke="#222" stroke-width="1.1"/>
<text x="779.8" y="690.6" class="kt">10</text>
<line x1="813.4" y1="676.6" x2="813.4" y2="679.6" stroke="#222" stroke-width="1.1"/>
<text x="813.4" y="690.6" class="kt">15</text>
<line x1="847.0" y1="676.6" x2="847.0" y2="679.6" stroke="#222" stroke-width="1.1"/>
<text x="847.0" y="690.6" class="kt">20</text>
<text x="779" y="703.4" class="gt" style="font-size:11.7px">Count</text>
<text x="867.5" y="462.6" style="font-size:9.6px;fill:#222">-log10 (PValue)</text>
<rect x="867" y="469" width="14.3" height="73.4" fill="url(#kgrad)"/>
<line x1="867" y1="491.3" x2="869.8" y2="491.3" stroke="#fff" stroke-width="0.7"/>
<line x1="878.5" y1="491.3" x2="881.3" y2="491.3" stroke="#fff" stroke-width="0.7"/>
<text x="886.4" y="494.5" style="font-family:'Liberation Sans',sans-serif;font-size:9px;fill:#222">10</text>
<line x1="867" y1="520.7" x2="869.8" y2="520.7" stroke="#fff" stroke-width="0.7"/>
<line x1="878.5" y1="520.7" x2="881.3" y2="520.7" stroke="#fff" stroke-width="0.7"/>
<text x="886.4" y="523.9000000000001" style="font-family:'Liberation Sans',sans-serif;font-size:9px;fill:#222">5</text>
</g>
<g id="dock">
<text x="47.4" y="733.9" class="sub">(a)</text>
<text x="366" y="733.8" class="sub">(b)</text>
<text x="659.4" y="732" class="sub">(c)</text>
<text x="119.1" y="739.4" class="et" textLength="173.9" lengthAdjust="spacing">Src-Hexanorcucurbitacin F</text>
<text x="432.6" y="737.7" class="et" textLength="197.8" lengthAdjust="spacing" style="font-weight:normal;stroke:#1a1a1a;stroke-width:0.25px">Ptk2ab-Hexanorcucurbitacin F</text>
<text x="718.1" y="737.1" class="et" textLength="181.6" lengthAdjust="spacing">Jak1-Hexanorcucurbitacin F</text>
<path d="M83.6 751.8 C88.1 749.4 96.5 751.8 100.4 752.6 C104.3 753.4 104.6 756.5 107.1 756.8 C109.6 757.1 113.0 753.5 115.5 754.3 C118.0 755.1 118.5 761.4 122.2 761.8 C125.9 762.2 133.2 755.1 137.4 756.8 C141.6 758.5 143.5 769.1 147.4 771.9 C151.3 774.7 157.5 772.2 160.9 773.6 C164.3 775.0 165.4 779.9 167.6 780.3 C169.8 780.7 169.8 776.0 174.3 776.1 C178.8 776.2 189.2 779.5 194.5 781.2 C199.8 782.9 204.1 784.4 206.2 786.2 C208.3 788.0 208.5 790.7 207.1 792.1 C205.7 793.5 203.0 794.5 197.8 794.6 C192.6 794.7 182.4 792.8 176.0 792.9 C169.6 793.0 161.2 793.0 159.2 795.4 C157.2 797.8 162.5 803.6 164.2 807.2 C165.9 810.9 169.9 813.9 169.3 817.3 C168.8 820.7 162.9 824.0 160.9 827.4 C158.9 830.8 160.3 835.2 157.5 837.4 C154.7 839.6 148.6 839.1 144.1 840.8 C139.6 842.5 134.5 847.8 130.6 847.5 C126.7 847.2 125.6 839.7 120.6 839.1 C115.6 838.5 107.4 844.1 100.4 844.1 C93.4 844.1 85.0 840.8 78.6 839.1 C72.2 837.4 65.2 838.0 61.8 834.1 C58.4 830.2 58.4 821.5 58.4 815.6 C58.4 809.7 58.7 802.7 61.8 798.8 C64.9 794.9 75.2 795.2 76.9 792.1 C78.6 789.0 72.4 784.5 71.8 780.3 C71.2 776.1 71.5 771.6 73.5 766.9 C75.5 762.1 79.1 754.2 83.6 751.8Z" fill="#ebebeb" stroke="#a8a8a8" stroke-width="2" filter="url(#lump)"/>
<circle cx="94.3" cy="792.8" r="1.6" fill="#a03080"/>
<rect x="83.6" y="781.6" width="28" height="24" fill="none" stroke="#000" stroke-width="1.8" stroke-dasharray="6.4 2.4"/>
<path d="M111.8 781.3 L221 759.8 M111.8 805.8 L221 847.3" stroke="#111" stroke-width="0.95" fill="none"/>
<path d="M437.2 792.1 C437.9 789.3 438.8 779.9 441.4 775.3 C444.0 770.7 451.5 768.2 453.1 764.4 C454.7 760.6 452.7 754.9 450.9 752.6 C449.1 750.3 445.6 750.1 442.2 750.5 C438.8 750.9 434.6 754.7 430.4 754.8 C426.2 754.9 420.9 750.5 417.0 751.1 C413.1 751.7 409.4 754.8 406.9 758.5 C404.4 762.2 404.7 769.4 401.9 773.6 C399.1 777.8 392.9 780.3 390.1 783.7 C387.4 787.1 385.7 789.9 385.4 793.8 C385.1 797.7 387.0 803.3 388.4 807.2 C389.8 811.1 391.0 814.8 393.5 817.3 C396.0 819.8 400.5 819.9 403.6 822.4 C406.7 824.9 408.4 829.3 412.0 832.4 C415.6 835.5 423.2 839.4 425.4 840.8" fill="none" stroke="#e6e6e6" stroke-width="6" stroke-linecap="round" filter="url(#lump2)"/>
<path d="M422.0 795.5 C420.3 796.6 414.5 799.1 412.0 802.2 C409.5 805.3 406.6 810.1 406.9 814.0 C407.2 817.9 410.5 823.2 413.6 825.7 C416.7 828.2 423.4 828.5 425.4 829.1" fill="none" stroke="#e6e6e6" stroke-width="5" stroke-linecap="round" filter="url(#lump2)"/>
<path d="M425.4 802.2 C427.4 799.4 430.4 794.4 433.8 793.8 C437.2 793.2 441.4 799.4 445.6 798.8 C449.8 798.2 455.1 793.8 459.0 790.4 C462.9 787.0 465.2 780.4 469.1 778.7 C473.0 777.0 478.6 779.0 482.5 780.4 C486.4 781.8 488.7 786.8 492.6 787.1 C496.5 787.4 502.4 781.2 506.0 782.0 C509.6 782.8 512.1 787.9 514.4 792.1 C516.6 796.3 519.2 802.7 519.5 807.2 C519.8 811.7 515.8 815.4 516.1 819.0 C516.4 822.6 520.5 825.2 521.1 829.1 C521.7 833.0 522.0 840.0 519.5 842.5 C517.0 845.0 509.9 843.4 506.0 844.2 C502.1 845.0 499.8 847.8 495.9 847.5 C492.0 847.2 487.0 843.3 482.5 842.5 C478.0 841.7 473.0 843.9 469.1 842.5 C465.2 841.1 461.2 833.8 459.0 834.1 C456.8 834.4 457.8 841.4 455.6 844.2 C453.4 847.0 449.5 849.8 445.6 850.9 C441.7 852.0 435.5 852.9 432.1 850.9 C428.7 848.9 426.5 843.9 425.4 839.1 C424.3 834.4 426.0 827.1 425.4 822.4 C424.8 817.6 422.0 814.0 422.0 810.6 C422.0 807.2 423.4 805.0 425.4 802.2Z" fill="#f0f0f0" stroke="#b4b4b4" stroke-width="1.6" filter="url(#lump2)"/>
<circle cx="473" cy="804.5" r="1.3" fill="#a03080"/>
<rect x="459.2" y="790.3" width="27.6" height="24.6" fill="none" stroke="#000" stroke-width="1.8" stroke-dasharray="6.4 2.4"/>
<path d="M487.2 789.6 L541.2 759 M487.2 815.3 L541.2 847.6" stroke="#111" stroke-width="0.85" fill="none"/>
<path d="M698.8 761.3 C700.9 759.1 707.4 756.6 711.2 756.9 C715.1 757.2 717.8 761.5 721.9 763.1 C726.0 764.7 731.4 767.0 736.1 766.7 C740.9 766.4 745.6 762.8 750.4 761.3 C755.1 759.8 759.6 758.7 764.6 757.8 C769.6 756.9 775.3 756.1 780.6 756.0 C785.9 755.9 792.2 756.8 796.6 756.9 C801.0 757.0 805.4 755.7 807.3 756.9 C809.2 758.1 810.6 762.1 808.2 764.0 C805.8 765.9 797.4 767.2 793.1 768.5 C788.8 769.8 783.6 769.6 782.4 772.0 C781.2 774.4 787.8 779.4 786.0 782.7 C784.2 786.0 772.9 788.3 771.7 791.6 C770.5 794.9 777.0 799.3 778.8 802.3 C780.6 805.3 783.6 807.3 782.4 809.4 C781.2 811.5 775.6 813.2 771.7 814.7 C767.9 816.2 761.7 816.2 759.3 818.3 C756.9 820.4 759.6 824.2 757.5 827.2 C755.4 830.2 749.8 832.9 746.8 836.1 C743.8 839.4 743.6 844.6 739.7 846.7 C735.9 848.8 727.9 849.4 723.7 848.5 C719.6 847.6 719.2 844.1 714.8 841.4 C710.3 838.7 701.5 836.4 697.0 832.5 C692.5 828.6 689.3 822.4 688.1 818.3 C686.9 814.1 691.7 810.1 689.9 807.6 C688.1 805.1 678.7 805.8 677.5 803.1 C676.3 800.4 679.5 794.1 682.8 791.6 C686.0 789.1 693.5 789.8 697.0 788.0 C700.5 786.2 703.8 783.9 704.1 780.9 C704.4 777.9 699.7 773.5 698.8 770.2 C697.9 766.9 696.7 763.5 698.8 761.3Z" fill="#f0f0f0" stroke="#b4b4b4" stroke-width="1.6" filter="url(#lump2)"/>
<circle cx="743.5" cy="815" r="1.3" fill="#c07070"/>
<rect x="729.2" y="801.5" width="28" height="25" fill="none" stroke="#000" stroke-width="1.8" stroke-dasharray="6.4 2.4"/>
<path d="M757.8 800.8 L843.4 759.2 M757.8 827.2 L843.4 849" stroke="#111" stroke-width="0.95" fill="none"/>
<clipPath id="ca"><rect x="221.5" y="759" width="144.5" height="89"/></clipPath>
<g clip-path="url(#ca)">
<g filter="url(#rib)">
<path d="M221.6 773.7 C222.3 769.8 225.2 777.8 226.4 780.7 C227.7 783.7 228.9 788.0 229.1 791.4 C229.3 794.8 228.7 799.0 227.5 801.1 C226.3 803.2 223.1 808.9 222.1 804.3 C221.1 799.7 220.9 777.6 221.6 773.7Z" fill="#a9e3a3"/>
<path d="M227.5 803.2 C228.2 802.5 230.4 800.9 231.8 798.9 C233.2 796.9 235.4 792.6 236.1 791.4" fill="none" stroke="#a9e3a3" stroke-width="1.6"/>
<path d="M255.9 758.7 C254.8 759.2 250.7 759.9 249.0 761.4 C247.3 762.9 245.8 765.7 245.8 767.8 C245.8 769.9 247.4 772.6 249.0 774.2 C250.6 775.8 253.6 776.5 255.4 777.5 C257.2 778.5 259.3 779.0 259.7 780.1 C260.1 781.2 258.9 784.0 257.6 784.4 C256.4 784.8 253.1 783.1 252.2 782.8" fill="none" stroke="#a9e3a3" stroke-width="3" stroke-linecap="round"/>
<path d="M252.2 759.2 C251.5 759.7 255.1 761.9 256.5 761.9 C257.9 761.9 261.5 759.7 260.8 759.2 C260.1 758.8 252.9 758.8 252.2 759.2Z" fill="#a9e3a3"/>
<path d="M221.6 835.4 C222.4 831.5 224.7 827.4 226.4 824.7 C228.1 822.0 229.3 820.4 231.8 819.3 C234.3 818.2 238.3 818.0 241.5 818.2 C244.7 818.4 249.0 819.1 251.1 820.4 C253.2 821.6 254.1 823.9 254.3 825.7 C254.5 827.5 251.8 829.1 252.2 831.1 C252.6 833.1 255.4 834.6 256.5 837.5 C257.6 840.4 264.4 846.5 258.6 848.3 C252.8 850.1 227.8 850.4 221.6 848.3 C215.4 846.1 220.8 839.3 221.6 835.4Z" fill="#a9e3a3"/>
<path d="M222.1 822.5 C222.8 822.9 225.7 824.3 226.4 824.7" fill="none" stroke="#a9e3a3" stroke-width="1.6"/>
<path d="M252.2 820.4 C252.7 821.1 254.9 822.9 255.4 824.7 C255.9 826.5 255.4 830.0 255.4 831.1" fill="none" stroke="#a9e3a3" stroke-width="2"/>
<path d="M286.5 820.4 C286.1 822.2 284.0 827.9 284.4 831.1 C284.8 834.3 286.9 837.9 288.7 839.7 C290.5 841.5 294.0 841.4 295.1 841.8" fill="none" stroke="#a9e3a3" stroke-width="2.6"/>
<path d="M280.1 848.3 C277.9 847.2 284.0 843.3 286.5 841.8 C289.0 840.3 292.9 839.7 295.1 839.2 C297.4 838.7 299.2 837.1 300.0 838.6 C300.8 840.1 303.3 846.7 300.0 848.3 C296.7 849.9 282.4 849.4 280.1 848.3Z" fill="#a9e3a3"/>
<path d="M290.0 838.6 C293.4 837.0 307.7 836.8 310.4 838.4 C313.1 840.0 309.5 846.6 306.1 848.3 C302.7 849.9 292.7 849.9 290.0 848.3 C287.3 846.7 286.6 840.2 290.0 838.6Z" fill="#a9e3a3"/>
<path d="M342.0 801.6 C340.5 800.5 336.1 796.1 332.9 795.2 C329.7 794.3 325.2 794.7 322.7 796.2 C320.2 797.7 318.4 800.8 318.1 804.3 C317.8 807.8 318.6 813.6 321.1 817.2 C323.6 820.8 328.4 824.3 332.9 825.7 C337.4 827.1 345.4 825.7 347.9 825.7" fill="none" stroke="#a9e3a3" stroke-width="5.6" stroke-linecap="round"/>
<path d="M325.4 802.1 C326.6 802.8 329.9 805.5 332.9 806.4 C335.9 807.3 340.6 806.6 343.6 807.5 C346.7 808.4 349.9 811.1 351.2 811.8" fill="none" stroke="#a9e3a3" stroke-width="2"/>
<path d="M337.2 803.2 C337.7 805.0 339.7 810.3 340.4 813.9 C341.1 817.5 341.3 822.9 341.5 824.7" fill="none" stroke="#a9e3a3" stroke-width="2.4"/>
<path d="M330.8 848.3 C325.5 845.8 332.4 836.7 334.0 833.3 C335.6 829.9 337.7 829.7 340.4 827.9 C343.1 826.1 347.4 825.2 350.1 822.5 C352.8 819.8 353.9 814.3 356.5 811.8 C359.1 809.3 364.4 801.4 366.0 807.5 C367.6 813.6 371.9 841.5 366.0 848.3 C360.1 855.1 336.1 850.8 330.8 848.3Z" fill="#a9e3a3"/>
<path d="M354.4 807.5 C353.7 806.1 350.8 801.9 350.1 798.9 C349.4 795.9 349.0 792.3 350.1 789.3 C351.2 786.3 353.9 782.8 356.5 780.7 C359.1 778.6 364.4 777.5 366.0 776.9" fill="none" stroke="#a9e3a3" stroke-width="3"/>
<path d="M360.8 806.4 C360.6 804.8 358.8 799.5 359.7 796.8 C360.6 794.1 364.9 791.4 366.0 790.3" fill="none" stroke="#a9e3a3" stroke-width="2.6"/>
<path d="M347.9 848.3 C348.3 845.4 348.7 835.8 350.1 831.1 C351.5 826.5 355.4 822.2 356.5 820.4" fill="none" stroke="#8fd48b" stroke-width="1.6"/>
</g>
<g filter="url(#soft2)" opacity="0.75">
<polyline points="325.9,784.4 331.3,778.0" fill="none" stroke="#a9e3a3" stroke-width="1.6"/>
<polyline points="337.2,770.5 345.3,765.9" fill="none" stroke="#a9e3a3" stroke-width="1.6"/>
<polyline points="352.8,761.2 358.1,759.4" fill="none" stroke="#a9e3a3" stroke-width="1.6"/>
</g>
<g filter="url(#soft)">
<polygon points="238.2,784.4 243.1,776.4 247.4,779.1 249.0,788.2 245.2,796.2 239.8,793.0" fill="none" stroke="#c5c6e6" stroke-width="2.2" stroke-linejoin="round"/>
<polyline points="241.5,793.6 234.5,803.2 240.4,811.8 237.2,817.2" fill="none" stroke="#c5c6e6" stroke-width="2.4" stroke-linejoin="round"/>
<polyline points="240.4,816.1 244.1,819.3" fill="none" stroke="#1a2a90" stroke-width="2.4"/>
<polyline points="233.4,811.3 236.1,814.5" fill="none" stroke="#d9b040" stroke-width="2"/>
<polyline points="232.9,813.4 235.0,815.0" fill="none" stroke="#e8503a" stroke-width="2"/>
<polygon points="300.2,773.7 310.4,768.9 320.0,773.7 319.0,780.1 308.8,785.0 300.7,780.1" fill="none" stroke="#c5c6e6" stroke-width="2.4" stroke-linejoin="round"/>
<polyline points="319.5,773.2 330.8,766.9 335.1,774.2 347.9,771.0" fill="none" stroke="#c5c6e6" stroke-width="2.8" stroke-linejoin="round"/>
<polyline points="347.9,771.6 354.4,776.2" fill="none" stroke="#e8503a" stroke-width="2.4"/>
<polyline points="334.2,775.8 333.8,785.0" fill="none" stroke="#2a3cc8" stroke-width="2.6"/>
<polyline points="334.0,785.2 339.6,788.7" fill="none" stroke="#666" stroke-width="0.9"/>
<polyline points="300.7,779.1 295.4,781.8" fill="none" stroke="#c5c6e6" stroke-width="2.4"/>
<polyline points="295.4,781.8 283.6,786.6" fill="none" stroke="#e8503a" stroke-width="2.6"/>
<polyline points="284.4,784.1 270.4,793.6" fill="none" stroke="#e6dc50" stroke-width="1.4" stroke-dasharray="1.6 1.2"/>
<polyline points="251.1,799.5 235.0,810.2" fill="none" stroke="#e6dc50" stroke-width="1.4" stroke-dasharray="1.6 1.2"/>
<polyline points="252.2,814.5 243.1,811.8" fill="none" stroke="#dfe6b0" stroke-width="1.2" stroke-dasharray="1.4 1.2"/>
<polygon points="257.6,804.8 269.4,797.3 277.9,798.4 286.5,791.4 294.0,796.8 295.1,811.8 288.7,819.8 267.2,828.1 258.8,824.7" fill="#8a3a9a" stroke="#7a2f8a" stroke-width="1.6" stroke-linejoin="round"/>
<polyline points="293.0,796.8 296.2,797.3" fill="none" stroke="#8a3a9a" stroke-width="1.6"/>
<polyline points="294.0,800.0 297.3,800.5" fill="none" stroke="#8a3a9a" stroke-width="1.6"/>
<ellipse cx="264.2" cy="810.9" rx="2.6" ry="3.4" fill="#e8f4e6" transform="rotate(25 264.2 810.9)"/>
<ellipse cx="275.3" cy="814.8" rx="2.4" ry="3.2" fill="#e8f4e6" transform="rotate(25 275.3 814.8)"/>
<ellipse cx="279.2" cy="804.5" rx="2.2" ry="2.8" fill="#e8f4e6" transform="rotate(25 279.2 804.5)"/>
<ellipse cx="288.2" cy="808.8" rx="1.5" ry="2.0" fill="#e8f4e6" transform="rotate(25 288.2 808.8)"/>
<ellipse cx="270.4" cy="804.8" rx="1.1" ry="1.6" fill="#e8f4e6" transform="rotate(25 270.4 804.8)"/>
<polyline points="267.2,818.8 286.5,811.8" fill="none" stroke="#6d2a7d" stroke-width="1.1"/>
<polyline points="270.4,798.9 271.5,820.4" fill="none" stroke="#6d2a7d" stroke-width="1.1"/>
<polyline points="283.3,795.7 284.4,816.1" fill="none" stroke="#6d2a7d" stroke-width="1.1"/>
<polyline points="260.8,820.4 267.2,824.7" fill="none" stroke="#6d2a7d" stroke-width="1.1"/>
<polyline points="257.0,804.0 252.0,799.2" fill="none" stroke="#e8503a" stroke-width="2.4" stroke-linecap="round"/>
<polyline points="257.3,813.9 251.3,815.2" fill="none" stroke="#e8503a" stroke-width="2.4" stroke-linecap="round"/>
<polyline points="269.6,798.4 269.6,794.6" fill="none" stroke="#e8503a" stroke-width="2.4" stroke-linecap="round"/>
<polyline points="287.1,793.0 287.1,790.5" fill="none" stroke="#e8503a" stroke-width="2.4" stroke-linecap="round"/>
<polyline points="294.6,810.7 297.5,812.9" fill="none" stroke="#e8503a" stroke-width="2.4" stroke-linecap="round"/>
</g>
<text x="251.1" y="788.7" class="tiny">PHE-157</text>
<text x="305.6" y="789.0" class="tiny">TYR-18</text>
<text x="274.2" y="786.3" class="tiny">3.1</text>
<text x="244.1" y="805.9" class="tiny">2.8</text>
</g>
<clipPath id="cb"><rect x="541" y="759" width="118" height="89.2"/></clipPath>
<g clip-path="url(#cb)">
<g filter="url(#rib)">
<path d="M555.6 759.0 C558.8 756.8 568.2 758.0 571.5 759.0 C574.8 760.0 572.4 762.1 575.6 765.2 C578.8 768.3 585.6 773.3 590.9 777.7 C596.2 782.1 602.9 787.6 607.5 791.5 C612.1 795.4 617.6 798.4 618.5 801.2 C619.4 804.0 616.9 805.1 613.0 808.1 C609.1 811.1 599.6 819.0 595.0 819.2 C590.4 819.4 588.5 813.4 585.3 809.5 C582.1 805.6 579.0 799.8 575.6 795.6 C572.2 791.5 568.5 788.5 564.6 784.6 C560.7 780.7 553.6 776.4 552.1 772.1 C550.6 767.8 552.4 761.2 555.6 759.0Z" fill="#a9e3a3"/>
<path d="M541.1 766.6 C542.9 767.5 550.3 771.2 552.1 772.1" fill="none" stroke="#a9e3a3" stroke-width="2"/>
<path d="M613.0 759.0 C613.9 759.1 618.3 757.8 618.5 759.7 C618.7 761.7 614.4 767.0 614.4 770.7 C614.4 774.4 616.4 778.6 618.5 781.8 C620.6 785.0 626.3 787.1 626.8 790.1 C627.3 793.1 621.3 796.3 621.3 799.8 C621.3 803.3 623.6 807.9 626.8 810.9 C630.0 813.9 637.7 815.0 640.7 817.8 C643.7 820.6 644.1 825.9 644.8 827.5" fill="none" stroke="#a9e3a3" stroke-width="2.2"/>
<path d="M624.1 794.3 C625.5 792.7 629.0 787.1 632.4 784.6 C635.8 782.1 640.4 780.1 644.8 779.0 C649.2 777.9 656.5 777.9 658.9 777.7" fill="none" stroke="#a9e3a3" stroke-width="2.2"/>
<path d="M618.5 795.6 C619.4 794.9 622.7 791.3 624.1 791.5 C625.5 791.7 626.8 794.7 626.8 797.0 C626.8 799.3 624.5 803.9 624.1 805.3" fill="none" stroke="#a9e3a3" stroke-width="1.8"/>
<path d="M640.7 759.0 C642.4 758.0 655.9 753.8 658.9 759.0 C661.9 764.2 659.6 787.0 658.9 790.1 C658.2 793.2 656.1 781.9 654.5 777.7 C652.9 773.6 651.3 768.3 649.0 765.2 C646.7 762.1 639.1 760.0 640.7 759.0Z" fill="#a9e3a3"/>
<path d="M626.8 815.0 C630.0 811.8 634.2 809.0 637.9 808.1 C641.6 807.2 645.5 807.9 649.0 809.5 C652.5 811.1 657.2 811.3 658.9 817.8 C660.5 824.2 661.9 843.6 658.9 848.2 C655.9 852.8 644.7 847.5 640.7 845.4 C636.7 843.3 635.1 839.2 635.1 835.8 C635.1 832.3 642.1 826.1 640.7 824.7 C639.3 823.3 630.0 826.1 626.8 827.5 C623.6 828.9 622.7 833.0 621.3 833.0 C619.9 833.0 617.6 830.5 618.5 827.5 C619.4 824.5 623.6 818.2 626.8 815.0Z" fill="#a9e3a3"/>
<path d="M649.0 810.9 C649.7 809.5 657.2 813.2 658.9 819.2 C660.5 825.2 660.1 842.4 658.9 846.8 C657.7 851.2 652.4 848.6 651.7 845.4 C651.0 842.2 655.0 833.2 654.5 827.5 C654.0 821.8 648.3 812.3 649.0 810.9Z" fill="#8fd48b"/>
<path d="M607.5 833.0 C609.3 833.9 615.7 836.0 618.5 838.5 C621.3 841.0 623.2 846.6 624.1 848.2" fill="none" stroke="#a9e3a3" stroke-width="2"/>
<path d="M543.8 846.8 C544.0 844.5 545.2 838.5 545.2 833.0 C545.2 827.5 542.9 818.5 543.8 813.6 C544.7 808.8 548.2 804.8 550.7 803.9 C553.2 803.0 557.8 805.5 559.0 808.1 C560.2 810.7 559.5 815.3 557.7 819.2 C555.9 823.1 550.8 830.2 548.0 831.6 C545.2 833.0 541.3 828.6 541.1 827.5 C540.9 826.4 542.7 824.2 546.6 824.7 C550.5 825.2 560.0 828.8 564.6 830.2 C569.2 831.6 572.7 830.2 574.3 833.0 C575.9 835.8 574.3 844.5 574.3 846.8" fill="none" stroke="#a9e3a3" stroke-width="2.4"/>
<path d="M550.7 827.5 C552.3 829.3 558.1 835.0 560.4 838.5 C562.7 842.0 563.9 846.6 564.6 848.2" fill="none" stroke="#a9e3a3" stroke-width="2"/>
</g>
<g filter="url(#soft)">
<polygon points="557.7,777.7 566.0,770.7 577.0,772.1 604.7,787.3 608.2,794.3 595.0,805.3 585.3,799.8 575.6,799.8 559.7,788.0" fill="#8a3a9a" fill-opacity="0.62" stroke="#8a3a9a" stroke-width="2"/>
<polyline points="559.7,788.0 577.0,772.1" fill="none" stroke="#7a2f8a" stroke-width="1.3"/>
<polyline points="567.3,794.3 588.1,778.4" fill="none" stroke="#7a2f8a" stroke-width="1.3"/>
<polyline points="577.0,799.1 599.2,784.6" fill="none" stroke="#7a2f8a" stroke-width="1.3"/>
<polyline points="566.0,770.7 575.6,799.8" fill="none" stroke="#7a2f8a" stroke-width="1.3"/>
<polyline points="577.0,772.1 586.7,799.8" fill="none" stroke="#7a2f8a" stroke-width="1.3"/>
<polyline points="589.5,779.0 595.0,805.3" fill="none" stroke="#7a2f8a" stroke-width="1.3"/>
<polyline points="557.7,777.7 604.7,791.5" fill="none" stroke="#7a2f8a" stroke-width="1.3"/>
<circle cx="575.0" cy="786.7" r="2.6" fill="#b9e8b4"/>
<circle cx="586.7" cy="786.7" r="2.6" fill="#b9e8b4"/>
<circle cx="593.2" cy="797.3" r="2.8" fill="#d9f2d6"/>
<circle cx="569.0" cy="777.7" r="1.6" fill="#ffffff"/>
<circle cx="598.5" cy="789.4" r="1.6" fill="#b98cc6"/>
<polygon points="572.9,781.8 568.0,784.6 563.2,781.8 563.2,776.2 568.0,773.4 572.9,776.2" fill="none" stroke="#8a3a9a" stroke-width="2.1" stroke-linejoin="round"/>
<polygon points="579.8,789.5 575.0,792.3 570.1,789.5 570.1,783.9 575.0,781.1 579.8,783.9" fill="none" stroke="#8a3a9a" stroke-width="2.1" stroke-linejoin="round"/>
<polygon points="591.6,789.5 586.7,792.3 581.9,789.5 581.9,783.9 586.7,781.1 591.6,783.9" fill="none" stroke="#8a3a9a" stroke-width="2.1" stroke-linejoin="round"/>
<polygon points="597.8,799.8 592.9,802.6 588.1,799.8 588.1,794.2 592.9,791.4 597.8,794.2" fill="none" stroke="#8a3a9a" stroke-width="2.1" stroke-linejoin="round"/>
<polygon points="603.3,792.2 598.5,795.0 593.6,792.2 593.6,786.6 598.5,783.8 603.3,786.6" fill="none" stroke="#8a3a9a" stroke-width="2.1" stroke-linejoin="round"/>
<polygon points="568.0,786.7 563.2,789.5 558.3,786.7 558.3,781.1 563.2,778.3 568.0,781.1" fill="none" stroke="#8a3a9a" stroke-width="2.1" stroke-linejoin="round"/>
<polyline points="566.0,770.7 604.7,790.1" fill="none" stroke="#8a3a9a" stroke-width="2"/>
<polyline points="593.6,803.9 593.6,810.9" fill="none" stroke="#8a3a9a" stroke-width="2.2"/>
<polyline points="550.7,774.9 554.9,779.7" fill="none" stroke="#b080c8" stroke-width="2"/>
<polyline points="566.2,770.7 561.8,765.2" fill="none" stroke="#e8503a" stroke-width="2.4"/>
<polyline points="559.7,786.2 553.5,787.1" fill="none" stroke="#e8503a" stroke-width="2.4"/>
<polyline points="575.6,799.1 576.3,801.9" fill="none" stroke="#e8503a" stroke-width="2.4"/>
<polyline points="601.9,802.6 606.8,805.3" fill="none" stroke="#e8503a" stroke-width="2.4"/>
<polyline points="593.4,810.2 592.9,813.6" fill="none" stroke="#e8503a" stroke-width="2.4"/>
<polyline points="595.0,814.3 605.4,823.3" fill="none" stroke="#e6e060" stroke-width="1.1" stroke-dasharray="1.5 1.1"/>
<polyline points="605.8,806.7 605.4,823.3" fill="none" stroke="#e6e060" stroke-width="1.1" stroke-dasharray="1.5 1.1"/>
<polyline points="607.5,815.0 601.9,821.9" fill="none" stroke="#f0e080" stroke-width="1.1" stroke-dasharray="1.5 1.1"/>
<polyline points="621.3,815.0 616.5,819.2 620.6,825.4 615.1,829.5 608.8,826.8" fill="none" stroke="#c5c6e6" stroke-width="2.3" stroke-linejoin="round"/>
<polyline points="621.3,815.0 625.4,821.9 620.6,825.4" fill="none" stroke="#c5c6e6" stroke-width="2.3" stroke-linejoin="round"/>
<polyline points="620.6,815.0 616.5,808.1" fill="none" stroke="#2030b0" stroke-width="2.2"/>
<polyline points="625.4,822.6 633.1,825.8" fill="none" stroke="#e8503a" stroke-width="2.2"/>
<polyline points="609.5,826.8 605.4,824.0" fill="none" stroke="#e8503a" stroke-width="2.4"/>
<polyline points="614.7,830.0 617.1,836.5" fill="none" stroke="#e8503a" stroke-width="2.2"/>
</g>
<text x="601.2" y="833.3" class="tiny">GLU-430</text>
<text x="608.2" y="815.7" class="tiny">2.7</text>
</g>
<clipPath id="cc"><rect x="843.6" y="758.8" width="154" height="90.6"/></clipPath>
<g clip-path="url(#cc)">
<g filter="url(#rib)">
<path d="M843.4 758.4 L875.2 758.4 L868.0 777.4 L860.1 791.9 L853.4 807.6 L846.7 817.6 L843.4 822.1Z" fill="#a9e3a3"/>
<path d="M873.6 763.4 L876.9 761.7 L892.6 768.4 L907.1 777.4 L911.6 783.0 L902.6 781.8 L888.1 777.4 L872.4 769.5Z" fill="#8fd48b"/>
<path d="M893.1 758.4 L911.6 758.4 L911.6 768.4 L907.1 769.5 L899.3 765.1Z" fill="#8fd48b"/>
<path d="M909.4 762.8 C910.9 762.6 915.3 762.2 918.3 761.7 C921.3 761.2 925.7 759.9 927.2 759.5" fill="none" stroke="#a9e3a3" stroke-width="2.2"/>
<path d="M862.4 788.6 C863.7 785.4 865.6 783.6 868.0 783.0 C870.4 782.4 876.0 783.7 876.9 785.2 C877.8 786.7 875.1 789.9 873.6 791.9 C872.1 793.9 870.2 795.8 868.0 797.5 C865.8 799.2 861.0 803.5 860.1 802.0 C859.2 800.5 861.1 791.8 862.4 788.6Z" fill="#a9e3a3"/>
<path d="M853.4 807.6 C852.8 805.7 856.4 803.3 859.0 802.0 C861.6 800.7 867.8 798.8 869.1 799.7 C870.4 800.6 867.9 805.4 866.8 807.6 C865.7 809.9 864.6 813.2 862.4 813.2 C860.2 813.2 854.0 809.5 853.4 807.6Z" fill="#a9e3a3"/>
<path d="M843.4 817.6 C844.7 811.3 848.4 815.4 851.2 815.4 C854.0 815.4 857.7 815.7 860.1 817.6 C862.5 819.5 862.9 823.6 865.7 826.6 C868.5 829.6 873.4 835.5 876.9 835.5 C880.4 835.5 883.5 829.0 887.0 826.6 C890.5 824.2 894.5 821.8 898.2 821.0 C901.9 820.2 906.0 822.1 909.4 822.1 C912.8 822.1 915.1 820.8 918.3 821.0 C921.5 821.2 926.5 817.8 928.4 823.2 C930.3 828.6 943.7 848.4 929.5 853.4 C915.3 858.4 857.8 859.4 843.4 853.4 C829.0 847.4 842.1 823.9 843.4 817.6Z" fill="#a9e3a3"/>
<path d="M915.0 822.1 C917.0 816.9 923.6 819.1 927.3 819.9 C931.0 820.6 935.3 824.0 937.4 826.6 C939.5 829.2 940.0 832.5 939.6 835.5 C939.2 838.5 936.6 841.9 935.1 844.5 C933.6 847.1 934.1 850.1 930.7 851.2 C927.4 852.3 917.6 856.1 915.0 851.2 C912.4 846.4 913.0 827.3 915.0 822.1Z" fill="#a9e3a3"/>
<path d="M915.0 764.5 C916.7 764.0 921.2 762.0 925.1 761.2 C929.0 760.5 936.3 760.2 938.5 760.0" fill="none" stroke="#a9e3a3" stroke-width="2.2"/>
<path d="M944.1 760.0 C946.7 760.3 954.9 760.8 959.7 761.7 C964.6 762.6 968.7 764.8 973.2 765.6 C977.7 766.4 982.5 766.8 986.6 766.7 C990.7 766.6 995.9 765.4 997.8 765.1" fill="none" stroke="#a9e3a3" stroke-width="3"/>
<path d="M943.0 760.6 C942.2 761.7 939.6 764.9 938.5 767.3 C937.4 769.7 935.9 773.2 936.3 775.1 C936.7 777.0 940.0 777.9 940.7 778.5" fill="none" stroke="#a9e3a3" stroke-width="2"/>
<path d="M974.3 769.0 C975.6 769.6 979.3 771.2 982.1 772.9 C984.9 774.6 988.6 777.0 991.1 779.0 C993.6 781.0 996.2 783.7 997.2 784.6" fill="none" stroke="#a9e3a3" stroke-width="3.2"/>
<path d="M962.0 761.7 C962.5 763.2 964.9 768.1 965.3 770.7 C965.7 773.3 964.4 776.3 964.2 777.4" fill="none" stroke="#a9e3a3" stroke-width="1.8"/>
<path d="M932.9 774.0 C933.2 775.5 934.8 780.8 934.6 783.0 C934.4 785.2 932.3 786.7 931.8 787.4" fill="none" stroke="#a9e3a3" stroke-width="1.8"/>
<path d="M926.2 796.4 C928.1 796.2 934.0 795.2 937.4 795.5 C940.8 795.8 945.3 797.7 946.9 798.1" fill="none" stroke="#a9e3a3" stroke-width="3.2"/>
<path d="M955.3 802.5 C956.8 803.5 962.7 807.7 964.2 808.7" fill="none" stroke="#a9e3a3" stroke-width="3.4"/>
<path d="M972.6 818.8 C973.9 819.6 979.1 823.0 980.4 823.8" fill="none" stroke="#a9e3a3" stroke-width="3.4"/>
<path d="M987.1 828.3 C988.9 828.2 996.0 827.8 997.8 827.7" fill="none" stroke="#a9e3a3" stroke-width="3.2"/>
<path d="M972.0 849.0 C972.4 848.1 973.0 844.7 974.3 843.4 C975.6 842.1 978.1 840.9 979.9 841.1 C981.7 841.3 984.2 843.0 984.9 844.5 C985.5 846.0 984.0 849.2 983.8 850.1" fill="none" stroke="#a9e3a3" stroke-width="2.2"/>
<path d="M957.5 849.5 C958.2 849.3 960.7 848.3 962.0 848.4 C963.3 848.5 964.8 849.8 965.3 850.1" fill="none" stroke="#a9e3a3" stroke-width="2"/>
</g>
<g filter="url(#soft2)">
<path d="M852.3 827.7 C850.6 827.9 846.5 831.8 846.7 833.3 C846.9 834.8 851.7 836.9 853.4 836.7 C855.1 836.5 857.0 833.7 856.8 832.2 C856.6 830.7 854.0 827.5 852.3 827.7Z" fill="#ffffff" opacity="0.85"/>
<path d="M846.7 841.1 C847.5 840.4 855.0 842.3 855.7 843.4 C856.5 844.5 852.7 848.2 851.2 847.8 C849.7 847.4 846.0 841.8 846.7 841.1Z" fill="#ffffff" opacity="0.85"/>
<path d="M863.5 846.7 C863.7 845.8 872.1 843.9 873.6 844.5 C875.1 845.1 874.1 849.7 872.4 850.1 C870.7 850.5 863.3 847.6 863.5 846.7Z" fill="#ffffff" opacity="0.85"/>
<path d="M859.0 822.1 C859.4 823.6 859.6 828.1 861.3 831.1 C863.0 834.1 867.8 838.5 869.1 840.0" fill="none" stroke="#8ccf88" stroke-width="1.3"/>
<path d="M888.1 827.7 C888.5 829.0 888.6 833.1 890.3 835.5 C892.0 837.9 896.9 841.1 898.2 842.2" fill="none" stroke="#8ccf88" stroke-width="1.3"/>
<path d="M902.6 824.4 C902.8 825.9 902.5 830.7 903.8 833.3 C905.1 835.9 909.4 838.9 910.5 840.0" fill="none" stroke="#8ccf88" stroke-width="1.3"/>
<path d="M846.7 844.5 C849.3 844.1 857.0 842.2 862.4 842.2 C867.8 842.2 873.5 844.3 879.1 844.5 C884.7 844.7 890.5 843.0 895.9 843.4 C901.3 843.8 909.0 846.2 911.6 846.7" fill="none" stroke="#8ccf88" stroke-width="1.3"/>
<path d="M918.4 844.5 C918.6 843.2 921.3 841.1 922.8 841.1 C924.3 841.1 927.5 843.2 927.3 844.5 C927.1 845.8 923.2 849.0 921.7 849.0 C920.2 849.0 918.2 845.8 918.4 844.5Z" fill="#ffffff" opacity="0.7"/>
</g>
<g filter="url(#soft)">
<polygon points="860.7,813.2 865.2,807.6 873.6,797.5 889.2,788.6 909.4,777.9 922.2,777.9 923.3,782.4 918.3,786.3 925.0,790.8 925.0,804.2 917.2,807.6 907.1,808.7 902.6,817.6 888.1,824.4 878.0,832.2 870.2,835.5 865.7,826.6" fill="#8a3a9a" stroke="#782c88" stroke-width="1.8" stroke-linejoin="round"/>
<ellipse cx="896.8" cy="798.1" rx="3.6" ry="4.0" fill="#dff2dc"/>
<ellipse cx="887.5" cy="812.3" rx="3.6" ry="3.6" fill="#c9ecc5"/>
<ellipse cx="872.7" cy="812.3" rx="1.9" ry="2.1" fill="#ffffff"/>
<ellipse cx="915.2" cy="798.1" rx="3.4" ry="3.6" fill="#f4faf3"/>
<ellipse cx="873.6" cy="824.9" rx="1.5" ry="1.5" fill="#a66ab4"/>
<ellipse cx="908.2" cy="786.3" rx="2.0" ry="1.6" fill="#a66ab4"/>
<polyline points="873.6,798.1 909.4,779.0" fill="none" stroke="#6c2779" stroke-width="1.2"/>
<polyline points="866.8,807.6 902.6,817.6" fill="none" stroke="#6c2779" stroke-width="1.2"/>
<polyline points="880.3,804.2 878.0,832.2" fill="none" stroke="#6c2779" stroke-width="1.2"/>
<polyline points="906.0,793.0 907.1,808.7" fill="none" stroke="#6c2779" stroke-width="1.2"/>
<polyline points="889.2,788.6 892.6,807.6" fill="none" stroke="#6c2779" stroke-width="1.2"/>
<polyline points="868.0,817.6 888.1,824.4" fill="none" stroke="#6c2779" stroke-width="1.2"/>
<polyline points="882.5,803.1 906.0,793.0" fill="none" stroke="#6c2779" stroke-width="1.2"/>
<polyline points="907.1,808.7 918.3,787.4" fill="none" stroke="#6c2779" stroke-width="1.2"/>
<polyline points="873.6,798.1 909.4,779.0" fill="none" stroke="#a155b3" stroke-width="1.2"/>
<polyline points="856.8,831.1 864.0,829.4" fill="none" stroke="#a070c0" stroke-width="1.8"/>
<polyline points="860.7,812.3 853.2,812.3" fill="none" stroke="#e8503a" stroke-width="3" stroke-linecap="round"/>
<circle cx="873.6" cy="833.3" r="3" fill="#f04438"/>
<polyline points="901.3,819.3 907.1,820.1" fill="none" stroke="#c8602a" stroke-width="3"/>
<path d="M906.0 813.2 C907.3 811.5 910.6 805.9 913.8 803.1 C917.0 800.3 923.1 797.5 925.0 796.4" fill="none" stroke="#5fae62" stroke-width="2" opacity="0.75"/>
<polyline points="912.8,784.1 922.8,781.3" fill="none" stroke="#8a3a9a" stroke-width="3.2"/>
<polyline points="912.8,802.0 924.5,803.1" fill="none" stroke="#8a3a9a" stroke-width="3.2"/>
<polyline points="924.5,792.5 935.1,788.3" fill="none" stroke="#e8503a" stroke-width="3" stroke-linecap="round"/>
<polyline points="923.4,791.9 929.5,789.1" fill="none" stroke="#8a3a9a" stroke-width="3.2"/>
<polyline points="924.5,803.1 931.8,807.6" fill="none" stroke="#e8503a" stroke-width="2.8" stroke-linecap="round"/>
<polyline points="935.7,788.0 941.8,784.3" fill="none" stroke="#e8d84a" stroke-width="1.5"/>
<polyline points="931.8,808.7 936.3,816.0" fill="none" stroke="#e8d84a" stroke-width="1.5"/>
<polyline points="943.0,781.3 946.9,777.4" fill="none" stroke="#e8503a" stroke-width="2.6"/>
<polyline points="946.9,776.8 949.1,772.9 963.1,773.5" fill="none" stroke="#c5c6e6" stroke-width="3" stroke-linejoin="round"/>
<polyline points="963.1,773.5 969.8,777.9" fill="none" stroke="#1c2ca0" stroke-width="3.4"/>
<polyline points="965.9,776.8 969.8,783.0 981.0,782.4 980.4,776.3" fill="none" stroke="#c5c6e6" stroke-width="2.8" stroke-linejoin="round"/>
<polyline points="981.2,782.4 984.9,788.6" fill="none" stroke="#8a7a30" stroke-width="2.6"/>
<polyline points="960.6,788.6 960.9,795.3" fill="none" stroke="#e2e2f2" stroke-width="2.8"/>
<polyline points="957.3,807.6 957.7,810.9" fill="none" stroke="#e2e2f2" stroke-width="2.6"/>
<polyline points="936.3,816.2 942.4,816.7" fill="none" stroke="#d8d8e8" stroke-width="2"/>
<polyline points="942.4,816.3 951.4,822.1" fill="none" stroke="#1c2ca0" stroke-width="3.4"/>
<polyline points="951.4,822.7 955.8,828.8 970.9,823.8 970.7,818.8" fill="none" stroke="#c5c6e6" stroke-width="3.2" stroke-linejoin="round"/>
<polyline points="970.4,819.3 971.3,813.2" fill="none" stroke="#e8503a" stroke-width="2.8"/>
<polyline points="956.6,819.9 957.1,824.9" fill="none" stroke="#e2e2f2" stroke-width="2.4"/>
</g>
<text x="950.2" y="783.9" class="tiny">MET-323</text>
<text x="937.9" y="829.0" class="tiny">ARG-358</text>
<text x="940.7" y="789.7" class="tiny">2.2</text>
<text x="936.8" y="811.5" class="tiny">1.7</text>
</g>
</g>
</svg>
</body></html>
